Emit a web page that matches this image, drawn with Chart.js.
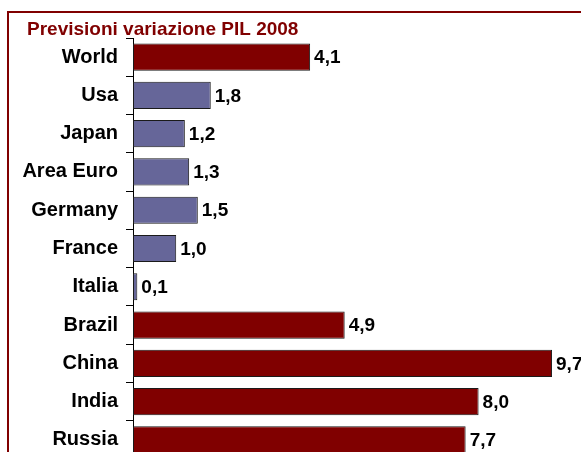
<!DOCTYPE html>
<html>
<head>
<meta charset="utf-8">
<script src="https://cdn.jsdelivr.net/npm/chart.js@4/dist/chart.umd.min.js"></script>
<style>
  html, body { margin: 0; padding: 0; background: #fff; overflow: hidden; }
  #pil { display: block; }
</style>
</head>
<body>
<canvas id="pil" width="581" height="479"></canvas>
<script>
// previsioni 2008, variazione % del PIL
var paesi = ["World", "Usa", "Japan", "Area Euro", "Germany", "France", "Italia", "Brazil", "China", "India", "Russia"];
var valori = [4.1, 1.8, 1.2, 1.3, 1.5, 1.0, 0.1, 4.9, 9.7, 8.0, 7.7];
var emergenti = ["World", "Brazil", "China", "India", "Russia"];

var rosso = '#800000';
var blu = '#666699';
var colori = paesi.map(function (p) { return emergenti.indexOf(p) >= 0 ? rosso : blu; });

var fonte = '"Liberation Sans", Arial, sans-serif';

// cornice e titolo
var cornice = {
    id: 'cornice',
    beforeDraw: function (chart) {
        var c = chart.ctx;
        c.save();
        c.strokeStyle = rosso;
        c.lineWidth = 2;
        c.beginPath();
        c.moveTo(8, chart.height + 5);
        c.lineTo(8, 12);
        c.lineTo(chart.width + 5, 12);
        c.stroke();
        c.fillStyle = rosso;
        c.font = 'bold 19px ' + fonte;
        c.textBaseline = 'alphabetic';
        c.textAlign = 'left';
        c.fillText("Previsioni variazione PIL 2008", 27, 35);
        c.restore();
    }
};

// etichette con il valore a destra di ogni barra
var etichette = {
    id: 'etichette',
    afterDatasetsDraw: function (chart) {
        var c = chart.ctx;
        var meta = chart.getDatasetMeta(0);
        c.save();
        c.fillStyle = '#000';
        c.font = 'bold 19px ' + fonte;
        c.textBaseline = 'middle';
        c.textAlign = 'left';
        meta.data.forEach(function (bar, i) {
            var testo = valori[i].toFixed(1).replace('.', ',');
            c.fillText(testo, bar.x + 4, bar.y + 1);
        });
        c.restore();
    }
};

var ctx = document.getElementById('pil').getContext('2d');
var chart = new Chart(ctx, {
    type: 'bar',
    data: {
        labels: paesi,
        datasets: [{
            data: valori,
            backgroundColor: colori,
            borderColor: '#1a1a1a',
            borderWidth: 1,
            borderSkipped: false,
            categoryPercentage: 1,
            barPercentage: 0.71
        }]
    },
    options: {
        indexAxis: 'y',
        responsive: false,
        animation: false,
        layout: { padding: { top: 38, right: 16, bottom: 4, left: 0 } },
        plugins: {
            legend: { display: false },
            tooltip: { enabled: false }
        },
        scales: {
            x: {
                display: false,
                min: 0,
                max: 10
            },
            y: {
                afterFit: function (scale) { scale.width = 133; },
                grid: {
                    offset: true,
                    drawOnChartArea: false,
                    drawTicks: true,
                    tickLength: 7,
                    color: '#000'
                },
                border: { display: true, color: '#000', width: 1 },
                ticks: {
                    color: '#000',
                    padding: 8,
                    font: { family: fonte, size: 20, weight: 'bold' }
                }
            }
        }
    },
    plugins: [cornice, etichette]
});
</script>
</body>
</html>
